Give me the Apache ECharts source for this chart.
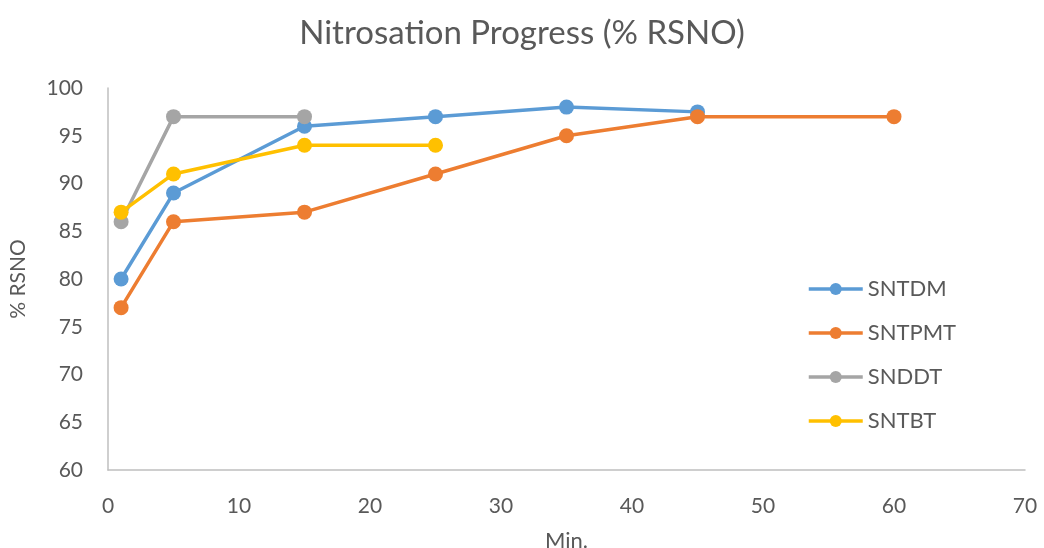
<!DOCTYPE html>
<html><head><meta charset="utf-8">
<script src="https://cdn.jsdelivr.net/npm/echarts@6/dist/echarts.min.js"></script>
<style>html,body{margin:0;padding:0;background:#fff}#c{width:1044px;height:548px}</style>
</head><body><div id="c"></div>
<script>
const sntdmX = [1, 5, 15, 25, 35, 45];
const sntdmY = [80, 89, 96, 97, 98, 97.5];
const sntpmtX = [1, 5, 15, 25, 35, 45, 60];
const sntpmtY = [77, 86, 87, 91, 95, 97, 97];
const snddtX = [1, 5, 15];
const snddtY = [86, 97, 97];
const sntbtX = [1, 5, 15, 25];
const sntbtY = [87, 91, 94, 94];
const seriesNames = ['SNTDM', 'SNTPMT', 'SNDDT', 'SNTBT'];
const colors = ['#5B9BD5', '#ED7D31', '#A5A5A5', '#FFC000'];

const pairs = (xs, ys) => xs.map((x, i) => [x, ys[i]]);
const allData = [pairs(sntdmX, sntdmY), pairs(sntpmtX, sntpmtY), pairs(snddtX, snddtY), pairs(sntbtX, sntbtY)];
const font = 'Lato, "Open Sans", sans-serif';
const chart = echarts.init(document.getElementById('c'));
chart.setOption({
  animation: false,
  color: colors,
  title: { text: 'Nitrosation Progress (% RSNO)', left: 'center', top: 12,
    textStyle: { fontFamily: font, fontSize: 33, fontWeight: 'normal', color: '#595959' } },
  grid: { left: 108, right: 19, top: 88, bottom: 78, outerBoundsMode: 'none', containLabel: false },
  legend: { orient: 'vertical', left: 802, top: 273, itemWidth: 54, itemHeight: 15, itemGap: 22,
    data: seriesNames,
    lineStyle: { width: 3.5 },
    textStyle: { fontFamily: font, fontSize: 22, color: '#595959' } },
  xAxis: { type: 'value', min: 0, max: 70, interval: 10,
    name: 'Min.', nameLocation: 'middle', nameGap: 60,
    nameTextStyle: { fontFamily: font, fontSize: 22, color: '#595959' },
    axisLine: { lineStyle: { color: '#BFBFBF', width: 1.5 } }, axisTick: { show: false },
    splitLine: { show: false },
    axisLabel: { fontFamily: font, fontSize: 21, color: '#595959', margin: 26 } },
  yAxis: { type: 'value', min: 60, max: 100, interval: 5,
    name: '% RSNO', nameLocation: 'middle', nameGap: 79, nameRotate: 90,
    nameTextStyle: { fontFamily: font, fontSize: 21, color: '#595959' },
    axisLine: { show: true, lineStyle: { color: '#BFBFBF', width: 1.5 } }, axisTick: { show: false },
    splitLine: { show: false },
    axisLabel: { fontFamily: font, fontSize: 21, color: '#595959', margin: 25 } },
  series: seriesNames.map((n, i) => ({
    name: n, type: 'line', data: allData[i], symbol: 'circle', symbolSize: 15,
    lineStyle: { width: 3.5 }, itemStyle: { color: colors[i] }
  }))
});
</script></body></html>
